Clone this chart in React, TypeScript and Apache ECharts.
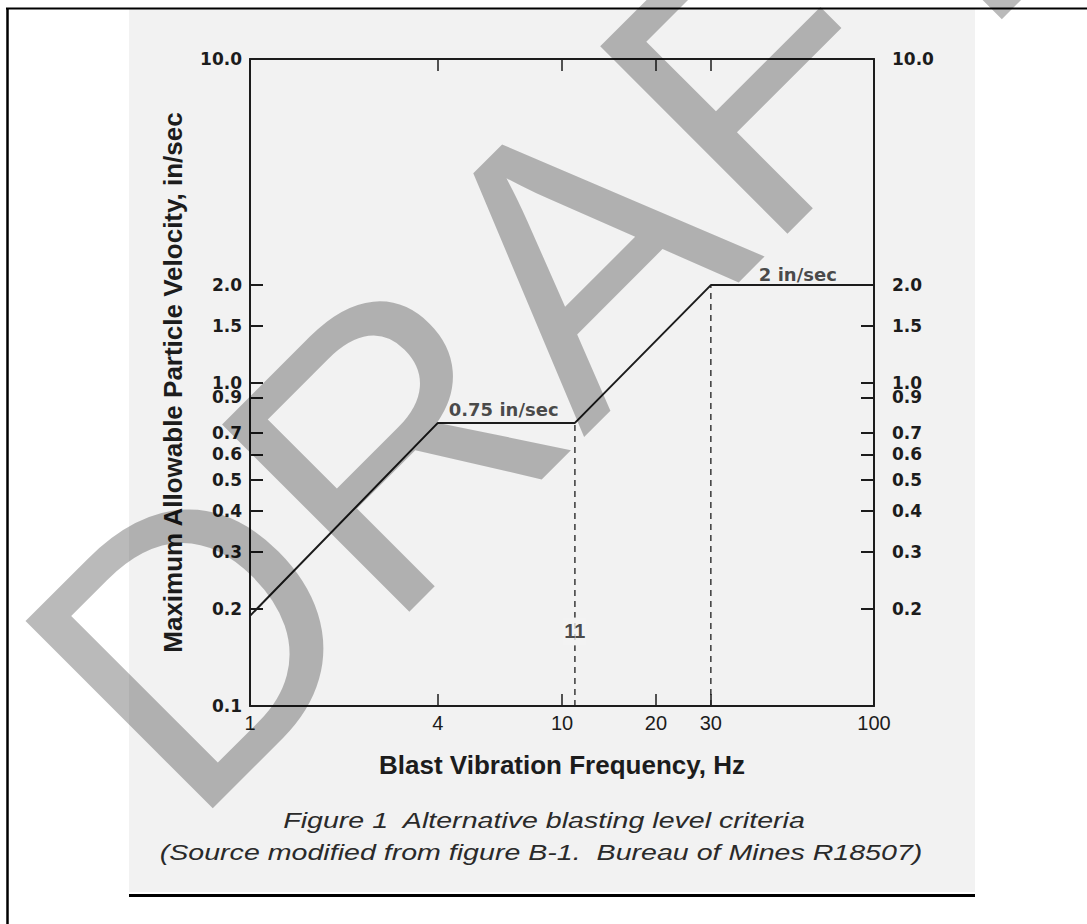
import React, { useEffect, useRef } from "react";
import * as echarts from "echarts";

// ---- data ----
const criteriaFreqHz = [1, 4, 11, 30, 100];
const criteriaVelocity = [0.19, 0.75, 0.75, 2.0, 2.0];

const guideFreqHz = [11, 30];
const guideTopVelocity = [0.75, 2.0];
const axisMinVelocity = 0.1;

const xLabelValues = [1, 4, 10, 20, 30, 100];
const xTickValues = [4, 10, 20, 30];
const yLeftLabelValues = [0.1, 0.2, 0.3, 0.4, 0.5, 0.6, 0.7, 0.9, 1.0, 1.5, 2.0, 10.0];
const yRightLabelValues = [0.2, 0.3, 0.4, 0.5, 0.6, 0.7, 0.9, 1.0, 1.5, 2.0, 10.0];
const yLeftTickValues = [0.2, 0.3, 0.4, 0.5, 0.6, 0.7, 0.9, 1.0, 1.5, 2.0];
const yRightTickValues = [0.2, 0.3, 0.4, 0.5, 0.6, 0.7, 0.9, 1.0, 1.5];

const noteTexts = ["0.75 in/sec", "2 in/sec"];
const noteFreqHz = [6.5, 57];
const noteVelocity = [0.75, 2.0];

const guideLabelText = "11";
const guideLabelFreq = 11;
const guideLabelVelocity = 0.17;

const xAxisTitle = "Blast Vibration Frequency, Hz";
const yAxisTitle = "Maximum Allowable Particle Velocity, in/sec";
const captionLine1 = "Figure 1  Alternative blasting level criteria";
const captionLine2 = "(Source modified from figure B-1.  Bureau of Mines R18507)";
const watermarkText = "DRAFT";

const INK = "#1c1c1c";
const PAPER = "#f2f2f2";
const TICK_FONT = "DejaVu Sans";
const SANS = "Liberation Sans";

export default function App() {
  const ref = useRef<HTMLDivElement>(null);

  useEffect(() => {
    if (!ref.current) return;
    const chart = echarts.init(ref.current, undefined, { renderer: "svg" });

    const criteria = criteriaFreqHz.map((f, i) => [f, criteriaVelocity[i]]);
    const guides = guideFreqHz.map((f, i) => ({
      type: "line",
      data: [
        [f, axisMinVelocity],
        [f, guideTopVelocity[i]],
      ],
      symbol: "none",
      lineStyle: { color: INK, width: 1.3, type: [6, 5] },
      z: 3,
      silent: true,
    }));

    const leftTickLabel = {
      customValues: yLeftLabelValues,
      formatter: (v: number) => Number(v).toFixed(1),
      fontFamily: TICK_FONT,
      fontWeight: "bold",
      fontSize: 17,
      color: INK,
      margin: 8,
      hideOverlap: false,
      showMinLabel: true,
      showMaxLabel: true,
    };

    chart.setOption({
      animation: false,
      backgroundColor: "#ffffff",
      grid: { left: 250, right: 213, top: 59, bottom: 218, containLabel: false },
      xAxis: [
        {
          type: "log",
          logBase: 10,
          min: 1,
          max: 100,
          position: "bottom",
          name: xAxisTitle,
          nameLocation: "middle",
          nameGap: 46,
          nameTextStyle: { fontFamily: SANS, fontWeight: "bold", fontSize: 26, color: INK },
          axisLine: { show: true, lineStyle: { color: INK, width: 2 } },
          axisTick: { show: true, inside: true, length: 12, customValues: xTickValues, lineStyle: { color: INK, width: 1.5 } },
          minorTick: { show: false },
          axisLabel: {
            customValues: xLabelValues,
            formatter: (v: number) => String(Math.round(v)),
            fontFamily: SANS,
            fontSize: 20,
            color: INK,
            margin: 7,
            hideOverlap: false,
            showMinLabel: true,
            showMaxLabel: true,
          },
          splitLine: { show: false },
        },
        {
          type: "log",
          logBase: 10,
          min: 1,
          max: 100,
          position: "top",
          axisLine: { show: true, lineStyle: { color: INK, width: 2 } },
          axisTick: { show: true, inside: true, length: 12, customValues: xTickValues, lineStyle: { color: INK, width: 1.5 } },
          axisLabel: { show: false },
          splitLine: { show: false },
        },
      ],
      yAxis: [
        {
          type: "log",
          logBase: 10,
          min: 0.1,
          max: 10,
          position: "left",
          name: yAxisTitle,
          nameLocation: "middle",
          nameRotate: 90,
          nameGap: 64,
          nameTextStyle: { fontFamily: SANS, fontWeight: "bold", fontSize: 26, color: INK },
          axisLine: { show: true, lineStyle: { color: INK, width: 2 } },
          axisTick: { show: true, inside: true, length: 13, customValues: yLeftTickValues, lineStyle: { color: INK, width: 2 } },
          axisLabel: leftTickLabel,
          splitLine: { show: false },
        },
        {
          type: "log",
          logBase: 10,
          min: 0.1,
          max: 10,
          position: "right",
          axisLine: { show: true, lineStyle: { color: INK, width: 2 } },
          axisTick: { show: true, inside: true, length: 13, customValues: yRightTickValues, lineStyle: { color: INK, width: 2 } },
          axisLabel: { ...leftTickLabel, customValues: yRightLabelValues, margin: 18 },
          splitLine: { show: false },
        },
      ],
      series: [
        {
          type: "line",
          name: "criteria",
          data: criteria,
          symbol: "none",
          lineStyle: { color: INK, width: 2 },
          z: 4,
          silent: true,
        },
        ...guides,
        {
          type: "scatter",
          name: "notes",
          symbolSize: 1,
          itemStyle: { color: "rgba(0,0,0,0)" },
          z: 6,
          silent: true,
          data: noteTexts.map((t, i) => ({
            name: t,
            value: [noteFreqHz[i], noteVelocity[i]],
            label: { distance: i === 0 ? 4 : 1 },
          })),
          label: {
            show: true,
            position: "top",
            distance: 4,
            formatter: (p: any) => p.name,
            fontFamily: TICK_FONT,
            fontWeight: "bold",
            fontSize: 18,
            color: INK,
          },
        },
        {
          type: "scatter",
          name: "guideLabel",
          symbolSize: 1,
          itemStyle: { color: "rgba(0,0,0,0)" },
          z: 6,
          silent: true,
          data: [{ name: guideLabelText, value: [guideLabelFreq, guideLabelVelocity] }],
          label: {
            show: true,
            position: "inside",
            formatter: (p: any) => p.name,
            fontFamily: SANS,
            fontWeight: "bold",
            fontSize: 20,
            color: INK,
            backgroundColor: PAPER,
            padding: [4, 1, 4, 1],
          },
        },
      ],
      graphic: [
        {
          type: "rect",
          z: -10,
          silent: true,
          shape: { x: 129, y: 9, width: 846, height: 883 },
          style: { fill: PAPER },
        },
        {
          type: "line",
          z: -5,
          silent: true,
          shape: { x1: 6, y1: 8.5, x2: 1087, y2: 8.5 },
          style: { stroke: "#000", lineWidth: 2 },
        },
        {
          type: "line",
          z: -5,
          silent: true,
          shape: { x1: 7.5, y1: 8, x2: 7.5, y2: 924 },
          style: { stroke: "#000", lineWidth: 2.5 },
        },
        {
          type: "line",
          silent: true,
          shape: { x1: 129, y1: 895.5, x2: 975, y2: 895.5 },
          style: { stroke: "#000", lineWidth: 3 },
        },
        {
          type: "text",
          silent: true,
          x: 544,
          y: 820,
          scaleX: 1.3,
          style: {
            text: captionLine1,
            fontFamily: SANS,
            fontStyle: "italic",
            fontSize: 22,
            fill: "#2a2a2a",
            textAlign: "center",
            align: "center",
            textVerticalAlign: "middle",
            verticalAlign: "middle",
          },
        },
        {
          type: "text",
          silent: true,
          x: 541,
          y: 852,
          scaleX: 1.3,
          style: {
            text: captionLine2,
            fontFamily: SANS,
            fontStyle: "italic",
            fontSize: 22,
            fill: "#2a2a2a",
            textAlign: "center",
            align: "center",
            textVerticalAlign: "middle",
            verticalAlign: "middle",
          },
        },
        {
          type: "text",
          silent: true,
          z: 100,
          x: 550,
          y: 283,
          rotation: Math.PI / 4,
          style: {
            text: watermarkText,
            fontFamily: SANS,
            fontSize: 385,
            fill: "rgba(0,0,0,0.27)",
            textAlign: "center",
            align: "center",
            textVerticalAlign: "middle",
            verticalAlign: "middle",
          },
        },
      ],
    });

    return () => chart.dispose();
  }, []);

  return (
    <div
      ref={ref}
      style={{ position: "absolute", left: 0, top: 0, width: 1087, height: 924, background: "#ffffff" }}
    />
  );
}
